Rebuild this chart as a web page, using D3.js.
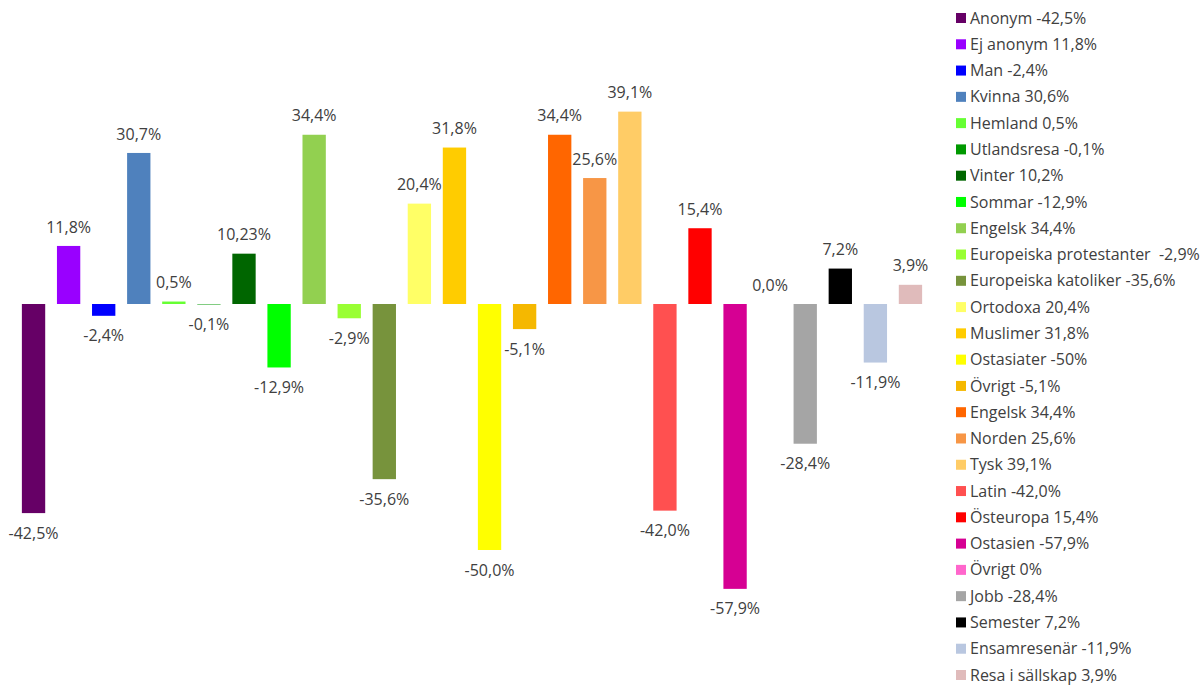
<!DOCTYPE html>
<html>
<head>
<meta charset="utf-8">
<script src="https://cdn.jsdelivr.net/npm/d3@7"></script>
<style>
  body { margin: 0; background: #fff; }
  svg { display: block; font-family: "Open Sans", sans-serif; }
</style>
</head>
<body>
<svg></svg>
<script>
const categories = [
    "Anonym", "Ej anonym", "Man", "Kvinna", "Hemland", "Utlandsresa", "Vinter", "Sommar",
    "Engelsk", "Europeiska protestanter", "Europeiska katoliker", "Ortodoxa", "Muslimer",
    "Ostasiater", "Övrigt", "Engelsk", "Norden", "Tysk", "Latin", "Östeuropa", "Ostasien",
    "Övrigt", "Jobb", "Semester", "Ensamresenär", "Resa i sällskap"
]
const values = [
    -42.5, 11.8, -2.4, 30.7, 0.5, -0.1, 10.23, -12.9,
    34.4, -2.9, -35.6, 20.4, 31.8,
    -50.0, -5.1, 34.4, 25.6, 39.1, -42.0, 15.4, -57.9,
    0.0, -28.4, 7.2, -11.9, 3.9
]
const barLabels = [
    "-42,5%", "11,8%", "-2,4%", "30,7%", "0,5%", "-0,1%", "10,23%", "-12,9%",
    "34,4%", "-2,9%", "-35,6%", "20,4%", "31,8%",
    "-50,0%", "-5,1%", "34,4%", "25,6%", "39,1%", "-42,0%", "15,4%", "-57,9%",
    "0,0%", "-28,4%", "7,2%", "-11,9%", "3,9%"
]
const legendLabels = [
    "Anonym -42,5%", "Ej anonym 11,8%", "Man -2,4%", "Kvinna 30,6%", "Hemland 0,5%",
    "Utlandsresa -0,1%", "Vinter 10,2%", "Sommar -12,9%", "Engelsk 34,4%",
    "Europeiska protestanter  -2,9%", "Europeiska katoliker -35,6%", "Ortodoxa 20,4%",
    "Muslimer 31,8%", "Ostasiater -50%", "Övrigt -5,1%", "Engelsk 34,4%", "Norden 25,6%",
    "Tysk 39,1%", "Latin -42,0%", "Östeuropa 15,4%", "Ostasien -57,9%", "Övrigt 0%",
    "Jobb -28,4%", "Semester 7,2%", "Ensamresenär -11,9%", "Resa i sällskap 3,9%"
]
const colors = [
    "#660066", "#9900ff", "#0000ff", "#4f81bd", "#66ff33", "#009900", "#006600", "#00ff00",
    "#92d050", "#99ff33", "#77933c", "#ffff66", "#ffcc00",
    "#ffff00", "#f5b800", "#ff6600", "#f79646", "#ffcc66", "#ff5050", "#ff0000", "#d60093",
    "#ff66cc", "#a5a5a5", "#000000", "#b9c7e0", "#e0bbbb"
]

const width = 1204
const height = 686
const textColor = "#404040"

const svg = d3.select("svg")
    .attr("width", width)
    .attr("height", height)

const x = d3.scaleBand()
    .domain(d3.range(categories.length))
    .range([16, 928])
    .paddingInner(0.335)
    .paddingOuter(0.1675)

const y = d3.scaleLinear()
    .domain([-60, 40])
    .range([304 + 60 * 4.92, 304 - 40 * 4.92])

const bars = svg.append("g")

bars.selectAll("rect")
    .data(values)
    .enter()
    .append("rect")
    .attr("x", (d, i) => x(i))
    .attr("width", x.bandwidth())
    .attr("y", d => Math.min(y(d), y(0)))
    .attr("height", d => Math.abs(y(d) - y(0)))
    .attr("fill", (d, i) => colors[i])

// value labels
bars.selectAll("text")
    .data(values)
    .enter()
    .append("text")
    .attr("x", (d, i) => x(i) + x.bandwidth() / 2)
    .attr("y", d => d >= 0 ? y(d) - 19 : y(d) + 20)
    .attr("dy", "0.35em")
    .attr("text-anchor", "middle")
    .attr("font-size", 16)
    .attr("fill", textColor)
    .text((d, i) => barLabels[i])

// legend
const legendY = d3.scaleLinear()
    .domain([0, legendLabels.length - 1])
    .range([18, 675])

const legend = svg.append("g")
    .selectAll("g")
    .data(legendLabels)
    .enter()
    .append("g")
    .attr("transform", (d, i) => `translate(956, ${legendY(i)})`)

legend.append("rect")
    .attr("x", 0)
    .attr("y", -5)
    .attr("width", 10)
    .attr("height", 10)
    .attr("fill", (d, i) => colors[i])

legend.append("text")
    .attr("x", 14)
    .attr("dy", "0.35em")
    .attr("font-size", 16)
    .attr("fill", textColor)
    .style("white-space", "pre")
    .text(d => d)
</script>
</body>
</html>
